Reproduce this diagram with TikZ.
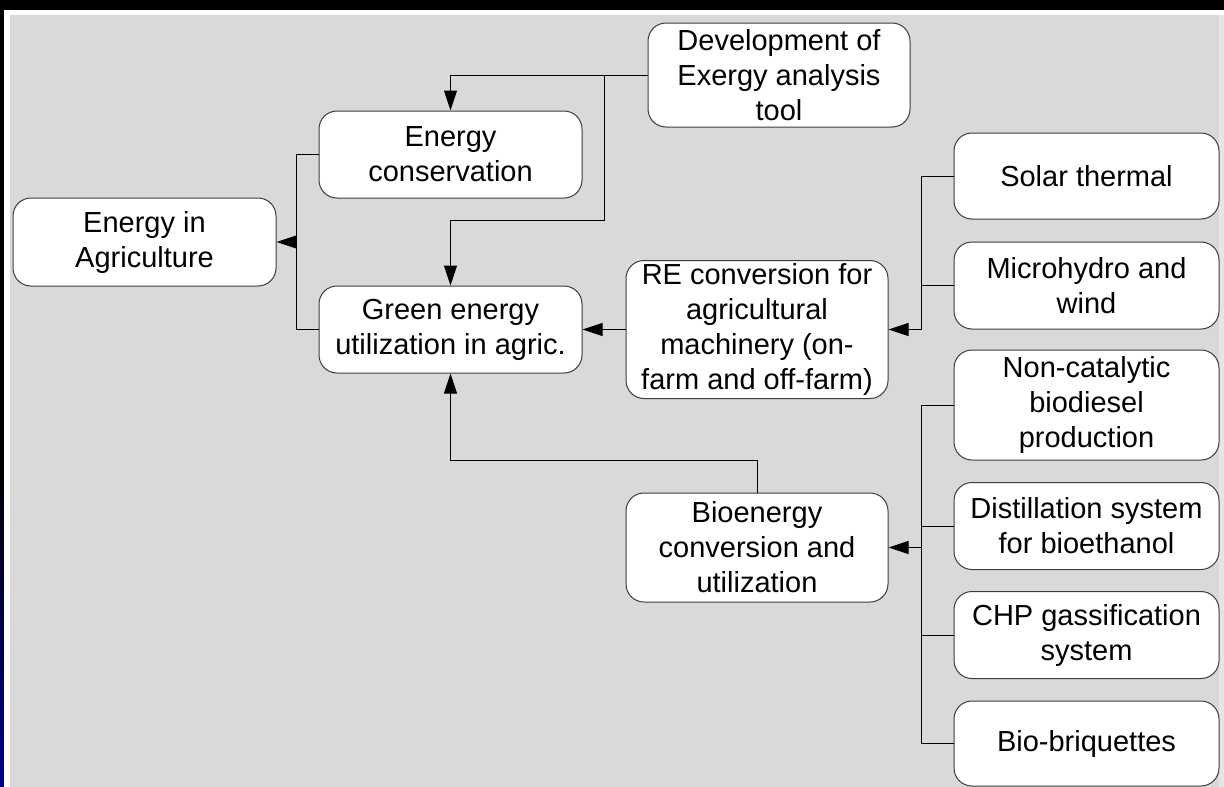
\documentclass[tikz,border=0pt]{standalone}
\usepackage{fontspec}
\setmainfont{Liberation Sans}
\usetikzlibrary{arrows.meta}
\definecolor{bggrey}{RGB}{217,217,217}
\definecolor{edgegrey}{RGB}{60,60,60}
\definecolor{stripblue}{RGB}{0,0,140}
\tikzset{
	box/.style 2 args = {draw = edgegrey, fill = white, rounded corners = 18pt, line width = 1pt,
		align = center, inner sep = 0pt, minimum width = #1pt, minimum height = #2pt,
		font = \fontsize{29}{35}\selectfont},
	arr/.style = {-{Triangle[length = 20pt, width = 13pt]}}
}
\begin{document}
\begin{tikzpicture}[x = 1pt, y = -1pt, line width = 1pt]
\useasboundingbox (0,0) rectangle (1224,787);
% frame
\fill[black] (0,0) rectangle (1224,787);
\shade[top color = black, bottom color = stripblue] (0,470) rectangle (4,787);
\fill[white] (4,10) rectangle (1224,787);
\fill[bggrey] (10,15) rectangle (1219,787);
\fill[black!10] (1219,15) rectangle (1224,787);
% boxes
\node[box = {263}{88}] (agri) at (144.5,242) {Energy in\\Agriculture};
\node[box = {263}{87}] (cons) at (450.5,154.5) {Energy\\conservation};
\node[box = {263}{87}] (green) at (450.5,329.5) {Green energy\\utilization in agric.};
\node[box = {262}{104}] (exergy) at (779,75) {Development of\\Exergy analysis\\tool};
\node[box = {262}{138}] (re) at (757,329.5) {RE conversion for\\agricultural\\machinery (on-\\farm and off-farm)};
\node[box = {262}{109}] (bio) at (757,547.5) {Bioenergy\\conversion and\\utilization};
\node[box = {265}{86}] (solar) at (1086.5,176) {Solar thermal};
\node[box = {265}{87}] (micro) at (1086.5,285.5) {Microhydro and\\wind};
\node[box = {265}{110}] (noncat) at (1086.5,405) {Non-catalytic\\biodiesel\\production};
\node[box = {265}{87}] (distil) at (1086.5,526) {Distillation system\\for bioethanol};
\node[box = {265}{87}] (chp) at (1086.5,635) {CHP gassification\\system};
\node[box = {265}{85}] (brique) at (1086.5,743.5) {Bio-briquettes};
% junctions
\coordinate (busL) at (296,242);
\coordinate (exJ) at (604,75);
\coordinate (exK) at (604,220);
\coordinate (bioK) at (757,460);
\coordinate (busR) at (921,329.5);
\coordinate (busB) at (921,547.5);
% connectors
\foreach \b in {cons, green}
{
	\draw (\b.west) -| (busL);
}
\draw[arr] (busL) -- (agri.east);
\draw[arr] (exergy.west) -| (cons.north);
\draw[arr] (exJ) -- (exK) -| (green.north);
\draw[arr] (re.west) -- (green.east);
\draw[arr] (bio.north) -- (bioK) -| (green.south);
\foreach \b in {solar, micro}
{
	\draw (\b.west) -| (busR);
}
\draw[arr] (busR) -- (re.east);
\foreach \b in {noncat, distil, chp, brique}
{
	\draw (\b.west) -| (busB);
}
\draw[arr] (busB) -- (bio.east);
\end{tikzpicture}
\end{document}
